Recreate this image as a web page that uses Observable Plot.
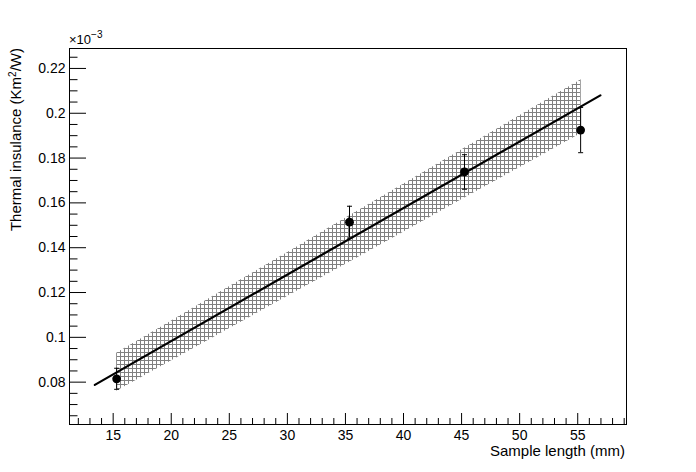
<!DOCTYPE html>
<html><head><meta charset="utf-8">
<script src="https://cdn.jsdelivr.net/npm/d3@7"></script>
<script src="https://cdn.jsdelivr.net/npm/@observablehq/plot@0.6"></script>
<style>body{margin:0;background:#fff} #chart svg{display:block}</style>
</head><body>
<svg width="0" height="0" style="position:absolute"><defs>
<pattern id="hatch" patternUnits="userSpaceOnUse" width="4" height="4">
<path d="M0,0.5H4M0.5,0V4" stroke="#808080" stroke-width="1" fill="none"/></pattern></defs></svg>
<div id="chart"></div>
<script>
// measured points
const sampleLength = [15.3, 35.35, 45.25, 55.25];
const insulance    = [0.0815, 0.1514, 0.1738, 0.1925];
const insulanceErr = [0.0047, 0.0071, 0.0077, 0.0101];
// fit line end points
const fitX = [13.42, 56.95];
const fitY = [0.0788, 0.2080];
// confidence band (hatched)
const bandX    = [15.3, 20, 25, 30, 35, 40, 45, 50, 55.3];
const bandLow  = [0.0759, 0.0894, 0.1038, 0.1182, 0.1325, 0.1469, 0.1614, 0.1757, 0.1910];
const bandHigh = [0.0929, 0.1072, 0.1226, 0.1378, 0.1531, 0.1683, 0.1836, 0.1989, 0.2150];
// axes
const xMajorTicks = [15, 20, 25, 30, 35, 40, 45, 50, 55];
const xTickLabels = ["15", "20", "25", "30", "35", "40", "45", "50", "55"];
const xMinorTicks = [12,13,14,16,17,18,19,21,22,23,24,26,27,28,29,31,32,33,34,36,37,38,39,41,42,43,44,46,47,48,49,51,52,53,54,56,57,58,59];
const yMajorTicks = [0.08, 0.10, 0.12, 0.14, 0.16, 0.18, 0.20, 0.22];
const yTickLabels = ["0.08", "0.1", "0.12", "0.14", "0.16", "0.18", "0.2", "0.22"];
const yMinorTicks = [0.065, 0.07, 0.075, 0.085, 0.09, 0.095, 0.105, 0.11, 0.115, 0.125, 0.13, 0.135, 0.145, 0.15, 0.155, 0.165, 0.17, 0.175, 0.185, 0.19, 0.195, 0.205, 0.21, 0.215, 0.225];
const xTitle = "Sample length (mm)";
const yTitle = ["Thermal insulance (Km", "2", "/W)"];
const yExponent = ["\u00d710", "\u22123"];

const points = sampleLength.map((x, i) => ({x, y: insulance[i], lo: insulance[i] - insulanceErr[i], hi: insulance[i] + insulanceErr[i]}));
const fit = fitX.map((x, i) => ({x, y: fitY[i]}));
const band = bandX.map((x, i) => ({x, lo: bandLow[i], hi: bandHigh[i]}));

const W = 696, H = 472, mL = 69, mR = 70, mT = 48, mB = 48;
const iW = W - mL - mR, iH = H - mT - mB;
const cap = {draw(ctx, size) { const r = Math.sqrt(size / Math.PI); ctx.moveTo(-r, 0); ctx.lineTo(r, 0); }};
const font = "'Liberation Sans', Arial, Helvetica, sans-serif";

const plot = Plot.plot({
  width: W, height: H,
  marginLeft: mL, marginRight: mR, marginTop: mT, marginBottom: mB,
  style: {fontFamily: font, fontSize: "14px", background: "white", color: "black"},
  x: {domain: [11.24, 59.2]},
  y: {domain: [0.0611, 0.2289]},
  marks: [
    Plot.areaY(band, {x: "x", y1: "lo", y2: "hi", fill: "url(#hatch)"}),
    Plot.line(fit, {x: "x", y: "y", stroke: "black", strokeWidth: 2.2}),
    Plot.ruleX(points, {x: "x", y1: "lo", y2: "hi", stroke: "black", strokeWidth: 1}),
    Plot.dot(points, {x: "x", y: "hi", symbol: cap, r: 2.5, stroke: "black", fill: "none", strokeWidth: 1}),
    Plot.dot(points, {x: "x", y: "lo", symbol: cap, r: 2.5, stroke: "black", fill: "none", strokeWidth: 1}),
    Plot.dot(points, {x: "x", y: "y", r: 4.4, fill: "black", stroke: "none"}),
    Plot.frame({stroke: "black", strokeWidth: 1}),
    Plot.tickX(xMinorTicks, {x: d => d, insetTop: iH - 6, stroke: "black"}),
    Plot.tickX(xMajorTicks, {x: d => d, insetTop: iH - 11, stroke: "black"}),
    Plot.tickY(yMinorTicks, {y: d => d, insetRight: iW - 8.5, stroke: "black"}),
    Plot.tickY(yMajorTicks, {y: d => d, insetRight: iW - 17, stroke: "black"}),
    Plot.axisX({ticks: xMajorTicks, tickSize: 0, tickPadding: 6, fontSize: 14, label: null,
      tickFormat: d => xTickLabels[xMajorTicks.indexOf(d)]}),
    Plot.axisY({ticks: yMajorTicks, tickSize: 0, tickPadding: 4, fontSize: 14, label: null,
      tickFormat: d => yTickLabels[yMajorTicks.indexOf(d)]})
  ]
});

const svg = d3.select(plot);
svg.append("text").attr("x", mL + iW - 1).attr("y", 456).attr("text-anchor", "end")
  .attr("font-size", 15).attr("font-family", font).attr("fill", "black").text(xTitle);
const yt = svg.append("text").attr("transform", `translate(21,${mT}) rotate(-90)`)
  .attr("text-anchor", "end").attr("font-size", 15).attr("font-family", font).attr("fill", "black");
yt.append("tspan").text(yTitle[0]);
yt.append("tspan").attr("dy", -5).attr("font-size", 10).text(yTitle[1]);
yt.append("tspan").attr("dy", 5).text(yTitle[2]);
const ex = svg.append("text").attr("x", mL).attr("y", 44).attr("text-anchor", "start")
  .attr("font-size", 13).attr("font-family", font).attr("fill", "black");
ex.append("tspan").text(yExponent[0]);
ex.append("tspan").attr("dy", -6).attr("font-size", 10).text(yExponent[1]);

document.getElementById("chart").append(plot);
</script>
</body></html>
